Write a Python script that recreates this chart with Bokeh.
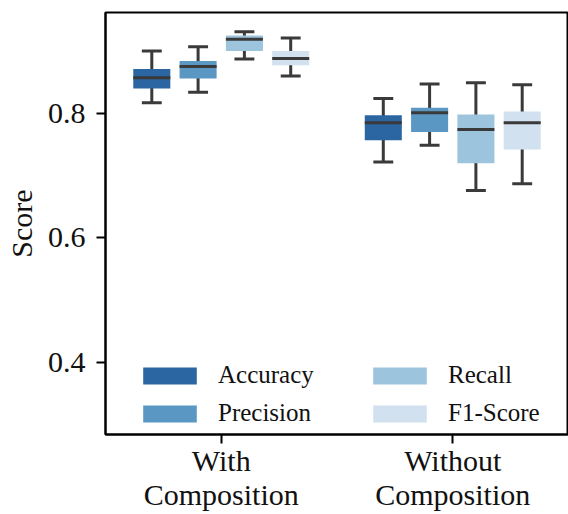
from bokeh.plotting import figure
from bokeh.models import ColumnDataSource, FactorRange, Legend, LegendItem, FixedTicker
from bokeh.transform import dodge
from bokeh.embed import file_html
from bokeh.resources import INLINE

groups = ["With\nComposition", "Without\nComposition"]
metrics = ["Accuracy", "Precision", "Recall", "F1-Score"]
colors = ["#2b66a3", "#5b97c3", "#9cc4dd", "#d2e1ef"]

# box statistics per metric, values for [With, Without]
whisker_low = {"Accuracy": [0.817, 0.722], "Precision": [0.834, 0.749],
               "Recall": [0.887, 0.676], "F1-Score": [0.860, 0.687]}
q1 = {"Accuracy": [0.840, 0.757], "Precision": [0.856, 0.770],
      "Recall": [0.900, 0.720], "F1-Score": [0.877, 0.742]}
median = {"Accuracy": [0.857, 0.785], "Precision": [0.875, 0.801],
          "Recall": [0.919, 0.774], "F1-Score": [0.888, 0.785]}
q3 = {"Accuracy": [0.871, 0.797], "Precision": [0.884, 0.809],
      "Recall": [0.925, 0.798], "F1-Score": [0.900, 0.803]}
whisker_high = {"Accuracy": [0.900, 0.824], "Precision": [0.907, 0.847],
                "Recall": [0.931, 0.849], "F1-Score": [0.921, 0.846]}

y_ticks = [0.4, 0.6, 0.8]
y_lo, y_hi = 0.2847, 0.9618

FONT = "Liberation Serif"
offsets = [-0.3, -0.1, 0.1, 0.3]
box_w = 0.16
cap_half = 0.043
edge = "#3a3a3a"

p = figure(x_range=FactorRange(*groups), y_range=(y_lo, y_hi),
           width=568, height=514, output_backend="svg", toolbar_location=None,
           min_border_left=105, min_border_right=0, min_border_top=12,
           min_border_bottom=79)
p.background_fill_color = "white"
p.border_fill_color = "white"
p.outline_line_color = "black"
p.outline_line_width = 2
p.xgrid.grid_line_color = None
p.ygrid.grid_line_color = None

renderers = {}
for m, c, off in zip(metrics, colors, offsets):
    src = ColumnDataSource(dict(group=groups, lo=whisker_low[m], q1=q1[m],
                                med=median[m], q3=q3[m], hi=whisker_high[m]))
    xc = dodge("group", off, range=p.x_range)
    xl = dodge("group", off - cap_half, range=p.x_range)
    xr = dodge("group", off + cap_half, range=p.x_range)
    xbl = dodge("group", off - box_w / 2, range=p.x_range)
    xbr = dodge("group", off + box_w / 2, range=p.x_range)
    p.segment(x0=xc, y0="lo", x1=xc, y1="hi", source=src,
              line_color=edge, line_width=3)
    p.segment(x0=xl, y0="lo", x1=xr, y1="lo", source=src,
              line_color=edge, line_width=3)
    p.segment(x0=xl, y0="hi", x1=xr, y1="hi", source=src,
              line_color=edge, line_width=3)
    r = p.vbar(x=xc, width=box_w, bottom="q1", top="q3", source=src,
               fill_color=c, line_color=None)
    renderers[m] = r
    p.segment(x0=xbl, y0="med", x1=xbr, y1="med", source=src,
              line_color=edge, line_width=3)

# axes
p.yaxis.ticker = FixedTicker(ticks=y_ticks)
p.yaxis.axis_label = "Score"
p.yaxis.axis_label_text_font = FONT
p.yaxis.axis_label_text_font_size = "30px"
p.yaxis.axis_label_text_font_style = "normal"
p.yaxis.axis_label_text_color = "#111111"
p.yaxis.axis_label_standoff = 7
for ax in (p.xaxis[0], p.yaxis[0]):
    ax.major_label_text_font = FONT
    ax.major_label_text_font_size = "30px"
    ax.major_label_text_color = "#111111"
    ax.axis_line_color = "black"
    ax.axis_line_width = 2
    ax.major_tick_line_color = "black"
    ax.major_tick_line_width = 2
    ax.major_tick_out = 9
    ax.major_tick_in = 0
    ax.minor_tick_line_color = None
p.yaxis.major_label_standoff = 11
p.xaxis.major_label_standoff = 0
p.xaxis.major_label_text_line_height = 1.05

def make_legend(names, loc):
    return Legend(items=[LegendItem(label=n, renderers=[renderers[n]]) for n in names],
                  location=loc, padding=0, margin=0, spacing=10,
                  glyph_width=67, glyph_height=21, label_standoff=15,
                  label_text_font=FONT, label_text_font_size="25px",
                  label_text_color="#111111",
                  border_line_alpha=0, background_fill_alpha=0)

p.add_layout(make_legend(["Accuracy", "Precision"], (31, 7)))
p.add_layout(make_legend(["Recall", "F1-Score"], (261, 7)))

open("out.html", "w").write(file_html(p, INLINE))
